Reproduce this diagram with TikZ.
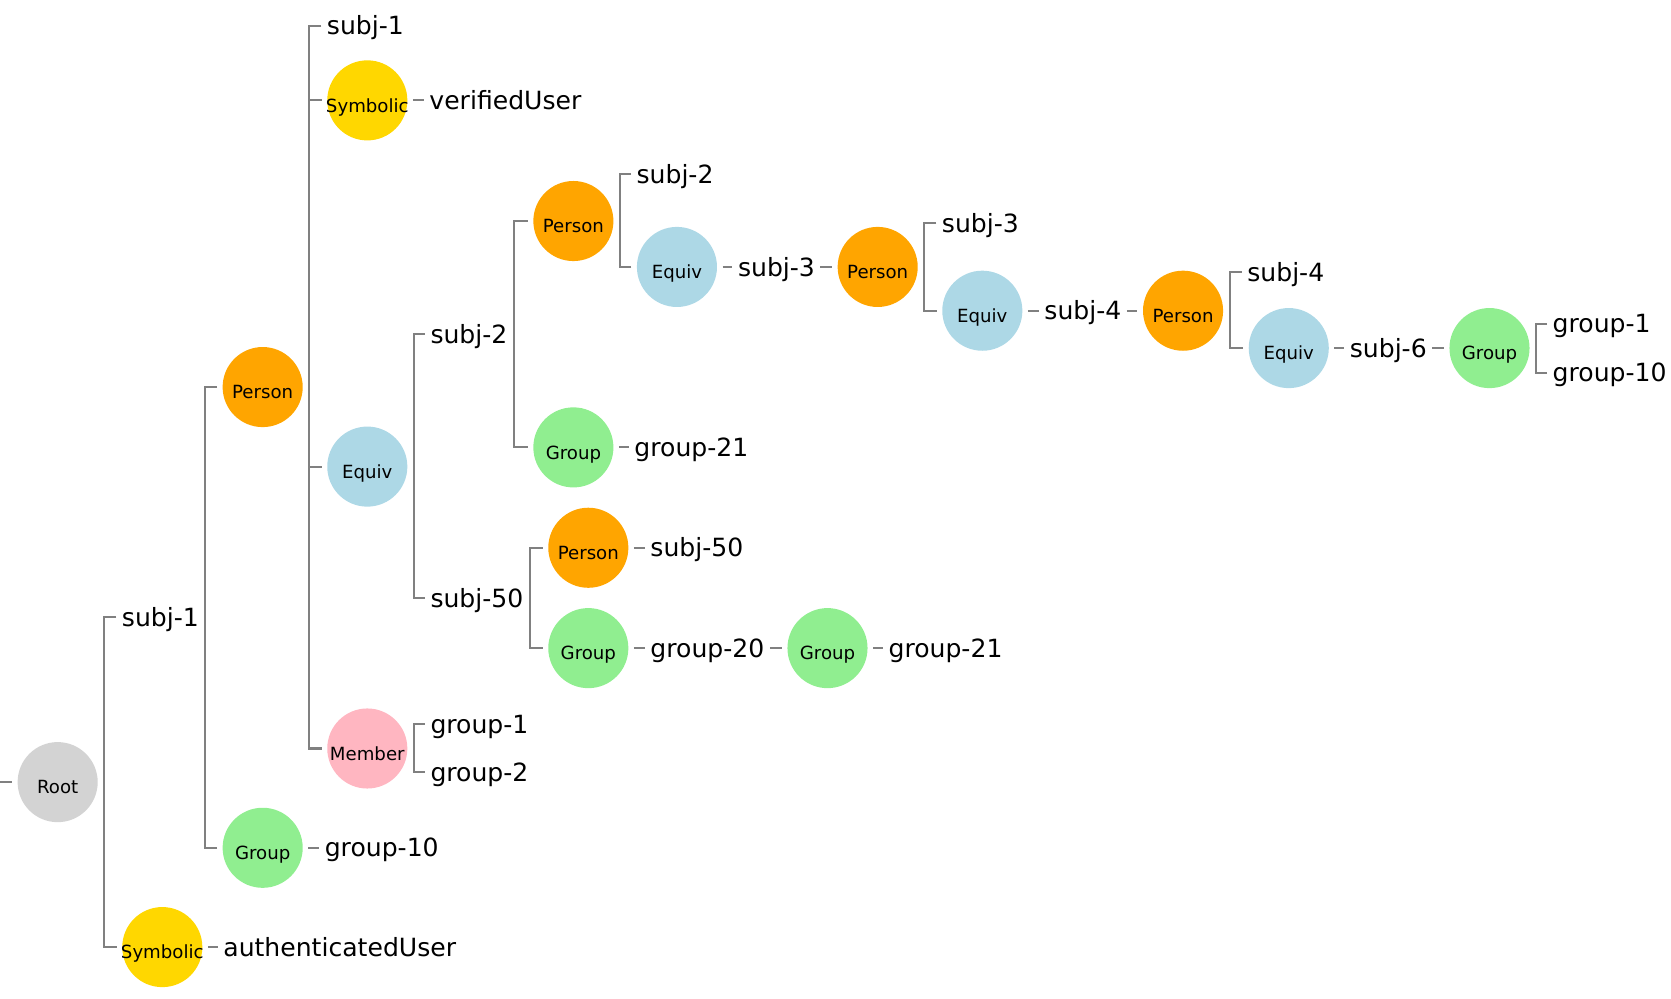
\documentclass[tikz,border=0pt]{standalone}
\usepackage{fontspec}
\setmainfont{DejaVu Sans}
\definecolor{cRoot}{HTML}{D3D3D3}
\definecolor{cPerson}{HTML}{FFA500}
\definecolor{cEquiv}{HTML}{ADD8E6}
\definecolor{cGroup}{HTML}{90EE90}
\definecolor{cSym}{HTML}{FFD700}
\definecolor{cMember}{HTML}{FFB6C1}
\definecolor{linegray}{RGB}{128,128,128}
\newcommand\cirtxt[1]{\makebox[0pt][c]{#1}}
\newcommand\hconn[2]{\draw[conn] ([xshift=5pt]#1.east) -- ([xshift=-5pt]#2.west);}
\newcommand\bconn[2]{\draw[conn] ([xshift=-5pt]#2.west) -| ([xshift=6pt]#1.east);}
\begin{document}
\begin{tikzpicture}[x=1pt,y=-1pt,
  conn/.style={draw=linegray, line width=1.9pt},
  circ/.style={circle, minimum size=75pt, inner sep=0pt, font=\fontsize{17}{17}\selectfont, text height=22pt, text depth=0pt},
  lbl/.style={anchor=west, inner sep=0pt, font=\fontsize{23.5}{23.5}\selectfont, text height=17.2pt, text depth=0pt}]
\useasboundingbox (0,0) rectangle (1565,935);
% nodes
\coordinate (stub) at (0,732.5);
\node[circ, fill=cRoot] (root) at (54,732.5) {\cirtxt{Root}};
\node[lbl] (l_s1) at (114,578) {subj-1};
\node[circ, fill=cSym] (sym1) at (152,887) {\cirtxt{Symbolic}};
\node[lbl] (l_auth) at (209,887) {authenticatedUser};
\node[circ, fill=cPerson] (per1) at (246,362.5) {\cirtxt{Person}};
\node[circ, fill=cGroup] (grp1) at (246,794) {\cirtxt{Group}};
\node[lbl] (l_g10a) at (304,794) {group-10};
\node[lbl] (l_s1b) at (306,24) {subj-1};
\node[circ, fill=cSym] (sym2) at (344,94) {\cirtxt{Symbolic}};
\node[lbl] (l_ver) at (402,94) {verifiedUser};
\node[circ, fill=cEquiv] (eq1) at (344,437) {\cirtxt{Equiv}};
\node[circ, fill=cMember] (mem) at (344,701) {\cirtxt{Member}};
\node[lbl] (l_g1a) at (403,678) {group-1};
\node[lbl] (l_g2) at (403,723) {group-2};
\node[lbl] (l_s2) at (403,313) {subj-2};
\node[lbl] (l_s50) at (403,560) {subj-50};
\node[circ, fill=cPerson] (per2) at (537,207) {\cirtxt{Person}};
\node[circ, fill=cGroup] (grp2) at (537,419) {\cirtxt{Group}};
\node[lbl] (l_g21a) at (594,419) {group-21};
\node[lbl] (l_s2b) at (596,163) {subj-2};
\node[circ, fill=cEquiv] (eq2) at (634,250) {\cirtxt{Equiv}};
\node[lbl] (l_s3) at (691,250) {subj-3};
\node[circ, fill=cPerson] (per3) at (822,250) {\cirtxt{Person}};
\node[lbl] (l_s3b) at (882,209) {subj-3};
\node[circ, fill=cEquiv] (eq3) at (920,291) {\cirtxt{Equiv}};
\node[lbl] (l_s4) at (978,291) {subj-4};
\node[circ, fill=cPerson] (per4) at (1108,291) {\cirtxt{Person}};
\node[lbl] (l_s4b) at (1168,255) {subj-4};
\node[circ, fill=cEquiv] (eq4) at (1207,326) {\cirtxt{Equiv}};
\node[lbl] (l_s6) at (1264,326) {subj-6};
\node[circ, fill=cGroup] (grp5) at (1395,326) {\cirtxt{Group}};
\node[lbl] (l_g1b) at (1454,303) {group-1};
\node[lbl] (l_g10b) at (1454,349) {group-10};
\node[circ, fill=cPerson] (per5) at (551,513) {\cirtxt{Person}};
\node[lbl] (l_s50b) at (609,513) {subj-50};
\node[circ, fill=cGroup] (grp3) at (551,607) {\cirtxt{Group}};
\node[lbl] (l_g20) at (609,607) {group-20};
\node[circ, fill=cGroup] (grp4) at (775,607) {\cirtxt{Group}};
\node[lbl] (l_g21b) at (832,607) {group-21};
% connectors
\draw[conn] (stub) -- ([xshift=-5pt]root.west);
\bconn{root}{l_s1} \bconn{root}{sym1}
\bconn{l_s1}{per1} \bconn{l_s1}{grp1}
\hconn{sym1}{l_auth}
\hconn{grp1}{l_g10a}
\bconn{per1}{l_s1b} \bconn{per1}{sym2} \bconn{per1}{eq1} \bconn{per1}{mem}
\hconn{sym2}{l_ver}
\bconn{eq1}{l_s2} \bconn{eq1}{l_s50}
\bconn{mem}{l_g1a} \bconn{mem}{l_g2}
\bconn{l_s2}{per2} \bconn{l_s2}{grp2}
\hconn{grp2}{l_g21a}
\bconn{per2}{l_s2b} \bconn{per2}{eq2}
\hconn{eq2}{l_s3} \hconn{l_s3}{per3}
\bconn{per3}{l_s3b} \bconn{per3}{eq3}
\hconn{eq3}{l_s4} \hconn{l_s4}{per4}
\bconn{per4}{l_s4b} \bconn{per4}{eq4}
\hconn{eq4}{l_s6} \hconn{l_s6}{grp5}
\bconn{grp5}{l_g1b} \bconn{grp5}{l_g10b}
\bconn{l_s50}{per5} \bconn{l_s50}{grp3}
\hconn{per5}{l_s50b}
\hconn{grp3}{l_g20} \hconn{l_g20}{grp4} \hconn{grp4}{l_g21b}
\end{tikzpicture}
\end{document}
